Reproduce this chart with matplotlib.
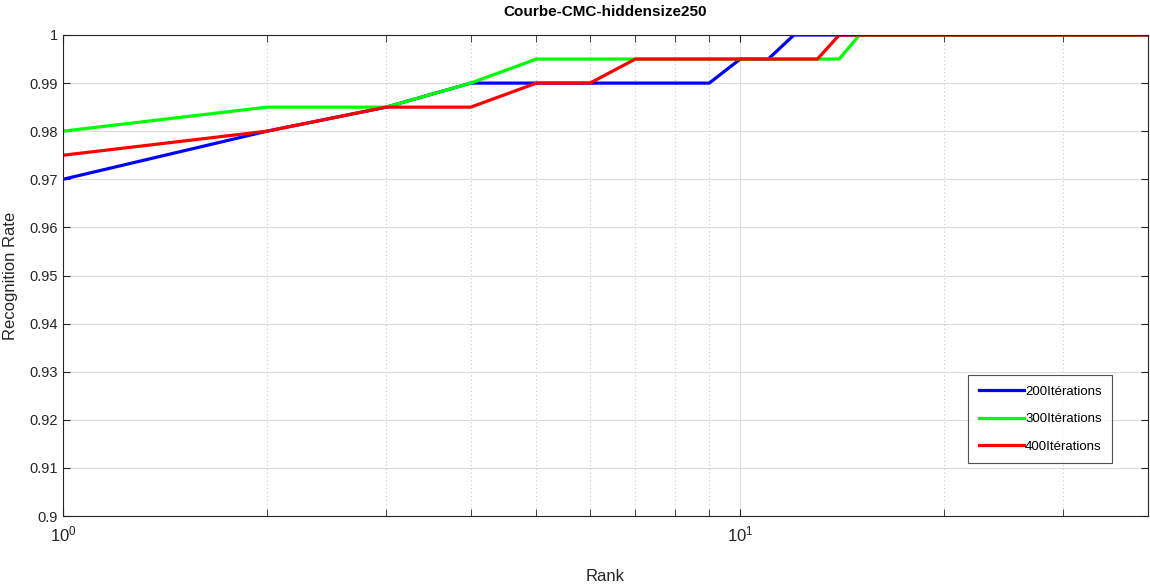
import matplotlib
matplotlib.use("Agg")
import matplotlib.pyplot as plt
import numpy as np
from matplotlib.ticker import FixedLocator, FuncFormatter, LogLocator, NullFormatter

plt.rcParams["font.family"] = ["Liberation Sans Narrow", "Liberation Sans", "DejaVu Sans"]

# Recognition rate per rank (CMC curves), ranks 1..40
ranks = np.arange(1, 41)
rate_200 = [0.97, 0.98, 0.985, 0.99, 0.99, 0.99, 0.99, 0.99, 0.99, 0.995,
            0.995] + [1.0] * 29
rate_300 = [0.98, 0.985, 0.985, 0.99, 0.995, 0.995, 0.995, 0.995, 0.995, 0.995,
            0.995, 0.995, 0.995, 0.995] + [1.0] * 26
rate_400 = [0.975, 0.98, 0.985, 0.985, 0.99, 0.99, 0.995, 0.995, 0.995, 0.995,
            0.995, 0.995, 0.995] + [1.0] * 27
labels = ["200Itérations", "300Itérations", "400Itérations"]

fig = plt.figure(figsize=(11.5, 5.87), dpi=100)
ax = fig.add_axes([63 / 1150, 71 / 587, 1085 / 1150, 481 / 587])

ax.plot(ranks, rate_200, color="#0000ff", lw=2.3, label=labels[0])
ax.plot(ranks, rate_300, color="#00ff00", lw=2.3, label=labels[1])
ax.plot(ranks, rate_400, color="#ff0000", lw=2.3, label=labels[2])

ax.set_xscale("log")
ax.set_xlim(1, 40)
ax.set_ylim(0.9, 1.0)
ax.yaxis.set_major_locator(FixedLocator(np.round(np.arange(0.9, 1.0001, 0.01), 2)))
ax.yaxis.set_major_formatter(FuncFormatter(lambda v, p: f"{v:.2f}".rstrip("0").rstrip(".")))
ax.xaxis.set_major_locator(LogLocator(base=10))
ax.xaxis.set_minor_locator(LogLocator(base=10, subs=np.arange(2, 10)))
ax.xaxis.set_minor_formatter(NullFormatter())

ax.tick_params(which="both", direction="in", top=True, right=True,
               colors="#262626", labelsize=10.5, length=5)
ax.tick_params(axis="x", which="major", labelsize=12, pad=6)
for s in ax.spines.values():
    s.set_color("#262626")
    s.set_linewidth(0.8)

ax.grid(True, which="major", axis="y", color="#dcdcdc", lw=0.8, ls="-")
ax.grid(True, which="major", axis="x", color="#dcdcdc", lw=0.8, ls="-")
ax.grid(True, which="minor", axis="x", color="#c8c8c8", lw=0.8, ls=(0, (1, 2.5)))
ax.set_axisbelow(True)

ax.set_title("Courbe-CMC-hiddensize250", fontsize=11, fontweight="bold", pad=14)
ax.set_xlabel("Rank", fontsize=12, labelpad=18, color="#262626")
ax.set_ylabel("Recognition Rate", fontsize=12, color="#262626")
ax.yaxis.set_label_coords(-0.0415, 0.5)

leg = ax.legend(loc="lower right", bbox_to_anchor=(0.967, 0.11), fontsize=9.5,
                frameon=True, fancybox=False, handlelength=3.4,
                handletextpad=0.1, labelspacing=1.15, borderpad=0.8,
                borderaxespad=0)
leg.get_frame().set_edgecolor("#262626")
leg.get_frame().set_linewidth(0.8)

fig.savefig("out.png", dpi=100)
